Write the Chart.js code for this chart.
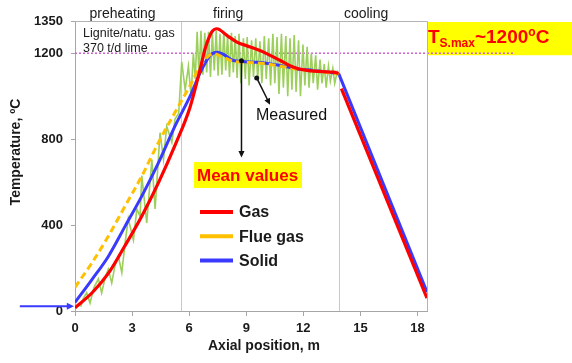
<!DOCTYPE html>
<html>
<head>
<meta charset="utf-8">
<script src="https://cdn.jsdelivr.net/npm/chart.js@4.4.0/dist/chart.umd.min.js"></script>
<style>
  html, body { margin: 0; padding: 0; background: #fff; }
</style>
</head>
<body>
<canvas id="chart" width="572" height="363"></canvas>
<script>
// Mean values (axial position in m, temperature in °C)
const gasX = [0, 0.9, 1.75, 2.6, 3.5, 4.4, 5.3, 6.05, 6.58, 6.84, 7.19, 7.46, 7.98, 8.51, 9.21, 9.91, 10.79, 11.49, 12.2, 13.0, 13.6, 13.85];
const gasT = [15, 85, 175, 300, 440, 600, 780, 950, 1127, 1221, 1299, 1314, 1283, 1252, 1229, 1205, 1166, 1135, 1120, 1114, 1112, 1105];
const gasCoolX = [14.0, 18.5];
const gasCoolT = [1035, 60];

const flueX = [0, 0.88, 1.75, 2.63, 3.51, 4.39, 5.26, 6.05, 6.58, 7.0, 7.3, 7.7, 8.33, 9.56, 10.79, 11.67, 12.54, 13.3, 13.86];
const flueT = [110, 223, 348, 488, 628, 785, 925, 1050, 1140, 1185, 1198, 1185, 1162, 1155, 1140, 1125, 1117, 1110, 1103];

const solidX = [0, 0.88, 1.75, 2.63, 3.51, 4.39, 5.26, 6.05, 6.58, 7.1, 7.46, 7.8, 8.33, 9.56, 10.79, 11.67, 12.54, 13.3, 13.86];
const solidT = [40, 145, 254, 394, 535, 691, 862, 1000, 1110, 1190, 1205, 1195, 1166, 1158, 1143, 1127, 1120, 1112, 1105];
const solidCoolX = [13.86, 18.5];
const solidCoolT = [1105, 88];

// Measured profile
const measX = [0.3, 0.45, 0.61, 0.79, 1.0, 1.23, 1.4, 1.6, 1.75, 1.93, 2.1, 2.28, 2.46, 2.65, 2.8, 3.07, 3.25, 3.42, 3.51, 3.77,
  4.04, 4.21, 4.47, 4.65, 4.82, 5.09, 5.26, 5.45, 5.61, 5.79, 5.96, 6.1, 6.22, 6.32, 6.42, 6.52, 6.62, 6.72, 6.82, 6.92,
  7.02, 7.12, 7.22, 7.32, 7.42, 7.52, 7.62, 7.72, 7.82, 7.92, 8.02, 8.12, 8.22, 8.32, 8.42, 8.52, 8.62, 8.72, 8.85, 8.95,
  9.05, 9.15, 9.28, 9.38, 9.5, 9.6, 9.72, 9.82, 9.95, 10.05, 10.18, 10.28, 10.4, 10.5, 10.62, 10.72, 10.85, 10.95, 11.08, 11.18,
  11.3, 11.4, 11.52, 11.62, 11.75, 11.85, 11.98, 12.08, 12.2, 12.3, 12.42, 12.52, 12.65, 12.75, 12.88, 12.98, 13.1, 13.2, 13.32, 13.42,
  13.55, 13.65, 13.8];
const measT = [20, 60, 85, 37, 110, 150, 84, 160, 195, 130, 210, 255, 178, 330, 430, 330, 475, 440, 630, 410,
  705, 475, 830, 705, 860, 785, 895, 920, 1160, 1030, 1140, 1000, 1200, 1080, 1300, 1090, 1305, 1100, 1295, 1110,
  1300, 1090, 1290, 1120, 1305, 1095, 1290, 1100, 1300, 1120, 1285, 1090, 1295, 1110, 1280, 1085, 1290, 1060, 1270, 1080,
  1275, 1050, 1260, 1090, 1270, 1075, 1255, 1060, 1280, 1080, 1270, 1050, 1290, 1060, 1275, 1010, 1290, 1040, 1280, 1000,
  1270, 1030, 1285, 1020, 1260, 1000, 1240, 1050, 1230, 1040, 1200, 1060, 1190, 1030, 1170, 1060, 1150, 1040, 1140, 1070,
  1130, 1060, 1120];

const xTicks = [0, 3, 6, 9, 12, 15, 18];
const yTicks = [0, 400, 800, 1200, 1350];
const phaseX = [5.6, 13.9];
const phaseNames = ["preheating", "firing", "cooling"];
const phaseLabelX = [2.5, 8.05, 15.3];
const tsMax = 1200;

const FONT = 'Arial, "Liberation Sans", sans-serif';
const RED = "#ff0000";
const ORANGE = "#ffc000";
const BLUE = "#3a3aff";
const GREEN = "#9ccf5c";

const pts = (xs, ys) => xs.map((x, i) => ({ x: x, y: ys[i] }));

function arrowHead(ctx, x0, y0, x1, y1, size) {
  const ang = Math.atan2(y1 - y0, x1 - x0);
  ctx.beginPath();
  ctx.moveTo(x1, y1);
  ctx.lineTo(x1 - size * Math.cos(ang - 0.45), y1 - size * Math.sin(ang - 0.45));
  ctx.lineTo(x1 - size * Math.cos(ang + 0.45), y1 - size * Math.sin(ang + 0.45));
  ctx.closePath();
  ctx.fill();
}

// yellow box behind the 1200 line
const backdrop = {
  id: "backdrop",
  beforeDatasetsDraw(chart) {
    const { ctx, chartArea: a, scales: { y } } = chart;
    ctx.save();
    ctx.fillStyle = "#ffff00";
    const top = y.getPixelForValue(1350) + 1;
    const bot = y.getPixelForValue(tsMax) + 2;
    ctx.fillRect(a.right, top, chart.width - a.right, bot - top);
    ctx.restore();
  },
};

const overlay = {
  id: "overlay",
  afterDatasetsDraw(chart) {
    const { ctx, chartArea: a, scales: { x, y } } = chart;
    ctx.save();

    // frame top / right
    ctx.strokeStyle = "#b4b4b4";
    ctx.lineWidth = 1;
    ctx.beginPath();
    ctx.moveTo(a.left, a.top + 0.5);
    ctx.lineTo(a.right + 0.5, a.top + 0.5);
    ctx.lineTo(a.right + 0.5, a.bottom);
    ctx.stroke();

    // phase names
    ctx.fillStyle = "#1a1a1a";
    ctx.textAlign = "center";
    ctx.textBaseline = "middle";
    ctx.font = "14px " + FONT;
    phaseNames.forEach((n, i) => ctx.fillText(n, x.getPixelForValue(phaseLabelX[i]), 14));

    ctx.textAlign = "left";
    ctx.font = "12.5px " + FONT;
    ctx.fillText("Lignite/natu. gas", a.left + 8, 34);
    ctx.fillText("370 t/d lime", a.left + 8, 49);

    // axis titles
    ctx.font = "bold 14px " + FONT;
    ctx.textAlign = "center";
    ctx.fillText("Axial position, m", 264, 346);
    ctx.save();
    ctx.translate(16, 152);
    ctx.rotate(-Math.PI / 2);
    ctx.fillText("Temperature, ºC", 0, 0);
    ctx.restore();

    // arrows
    ctx.strokeStyle = "#111";
    ctx.fillStyle = "#111";
    ctx.lineWidth = 1.5;
    const ax = x.getPixelForValue(8.75), ay0 = y.getPixelForValue(1165), ay1 = y.getPixelForValue(715);
    ctx.beginPath(); ctx.moveTo(ax, ay0); ctx.lineTo(ax, ay1 - 5); ctx.stroke();
    arrowHead(ctx, ax, ay0, ax, ay1, 7);
    ctx.beginPath(); ctx.arc(ax, ay0, 2.5, 0, Math.PI * 2); ctx.fill();

    const mx0 = x.getPixelForValue(9.55), my0 = y.getPixelForValue(1085);
    const mx1 = x.getPixelForValue(10.25), my1 = y.getPixelForValue(960);
    ctx.beginPath(); ctx.moveTo(mx0, my0); ctx.lineTo(mx1 - 2, my1 - 4); ctx.stroke();
    arrowHead(ctx, mx0, my0, mx1, my1, 7);
    ctx.beginPath(); ctx.arc(mx0, my0, 2.5, 0, Math.PI * 2); ctx.fill();

    ctx.font = "16px " + FONT;
    ctx.textAlign = "left";
    ctx.fillText("Measured", 256, 116);

    // inlet arrow
    ctx.strokeStyle = BLUE;
    ctx.fillStyle = BLUE;
    ctx.lineWidth = 2.2;
    const iy = y.getPixelForValue(22);
    const ix0 = x.getPixelForValue(-2.9), ix1 = x.getPixelForValue(0) - 1;
    ctx.beginPath(); ctx.moveTo(ix0, iy); ctx.lineTo(ix1 - 5, iy); ctx.stroke();
    arrowHead(ctx, ix0, iy, ix1, iy, 8);

    // Mean values label
    ctx.fillStyle = "#ffff00";
    ctx.fillRect(194, 162, 108, 26);
    ctx.fillStyle = RED;
    ctx.font = "bold 17px " + FONT;
    ctx.textAlign = "left";
    ctx.fillText("Mean values", 197, 176);

    // legend
    const items = [["Gas", RED], ["Flue gas", ORANGE], ["Solid", BLUE]];
    ctx.font = "bold 16px " + FONT;
    items.forEach((it, i) => {
      const ly = 212 + i * 24.3;
      ctx.strokeStyle = it[1];
      ctx.lineWidth = 4;
      ctx.beginPath(); ctx.moveTo(200, ly); ctx.lineTo(233, ly); ctx.stroke();
      ctx.fillStyle = "#1a1a1a";
      ctx.fillText(it[0], 239, ly + 1);
    });

    // Ts,max label
    let tx = a.right + 1;
    const base = 43;
    ctx.fillStyle = RED;
    ctx.textBaseline = "alphabetic";
    ctx.font = "bold 19px " + FONT;
    ctx.fillText("T", tx, base); tx += ctx.measureText("T").width;
    ctx.font = "bold 12px " + FONT;
    ctx.fillText("S.max", tx, base + 4); tx += ctx.measureText("S.max").width;
    ctx.font = "bold 19px " + FONT;
    ctx.fillText("~1200", tx, base); tx += ctx.measureText("~1200").width;
    ctx.font = "bold 12px " + FONT;
    ctx.fillText("o", tx, base - 7); tx += ctx.measureText("o").width;
    ctx.font = "bold 19px " + FONT;
    ctx.fillText("C", tx, base);

    ctx.restore();
  },
};

const lineBase = { pointRadius: 0, fill: false };

new Chart(document.getElementById("chart"), {
  type: "line",
  data: {
    datasets: [
      Object.assign({}, lineBase, { label: "Gas", data: pts(gasX, gasT), borderColor: RED, borderWidth: 3.2, cubicInterpolationMode: "monotone" }),
      Object.assign({}, lineBase, { label: "Gas", data: pts(gasCoolX, gasCoolT), borderColor: RED, borderWidth: 3.2, tension: 0 }),
      Object.assign({}, lineBase, { label: "Flue gas", data: pts(flueX, flueT), borderColor: ORANGE, borderWidth: 3, borderDash: [7, 4], cubicInterpolationMode: "monotone" }),
      Object.assign({}, lineBase, { label: "Solid", data: pts(solidX, solidT), borderColor: BLUE, borderWidth: 3, cubicInterpolationMode: "monotone" }),
      Object.assign({}, lineBase, { label: "Solid", data: pts(solidCoolX, solidCoolT), borderColor: BLUE, borderWidth: 3, tension: 0 }),
      Object.assign({}, lineBase, { label: "Measured", data: pts(measX, measT), borderColor: GREEN, borderWidth: 1.6, tension: 0 }),
      Object.assign({}, lineBase, { label: "sep1", data: [{ x: phaseX[0], y: 0 }, { x: phaseX[0], y: 1350 }], borderColor: "#c8c8c8", borderWidth: 1 }),
      Object.assign({}, lineBase, { label: "sep2", data: [{ x: phaseX[1], y: 0 }, { x: phaseX[1], y: 1350 }], borderColor: "#c8c8c8", borderWidth: 1 }),
      Object.assign({}, lineBase, { label: "Ts,max", data: [{ x: 0, y: tsMax }, { x: 23.05, y: tsMax }], borderColor: "#d05fd0", borderWidth: 1.5, borderDash: [2, 2], clip: false }),
    ],
  },
  options: {
    responsive: false,
    animation: false,
    layout: { padding: { left: 0, right: 145, top: 21, bottom: 0 } },
    plugins: { legend: { display: false }, tooltip: { enabled: false } },
    scales: {
      x: {
        type: "linear",
        min: 0,
        max: 18.5,
        afterFit(s) { s.height = 52; },
        afterBuildTicks(s) { s.ticks = xTicks.map((v) => ({ value: v })); },
        grid: { drawOnChartArea: false, drawTicks: true, tickLength: 5, color: "#a6a6a6" },
        border: { color: "#a6a6a6" },
        ticks: { font: { family: FONT, size: 13, weight: "bold" }, color: "#1a1a1a", padding: 5, maxRotation: 0, callback: (v) => String(v) },
      },
      y: {
        type: "linear",
        min: 0,
        max: 1350,
        afterFit(s) { s.width = 75; },
        afterBuildTicks(s) { s.ticks = yTicks.map((v) => ({ value: v })); },
        grid: { drawOnChartArea: false, drawTicks: true, tickLength: 4, color: "#a6a6a6" },
        border: { color: "#a6a6a6" },
        ticks: { font: { family: FONT, size: 13, weight: "bold" }, color: "#1a1a1a", padding: 8, callback: (v) => String(v) },
      },
    },
  },
  plugins: [backdrop, overlay],
});
</script>
</body>
</html>
